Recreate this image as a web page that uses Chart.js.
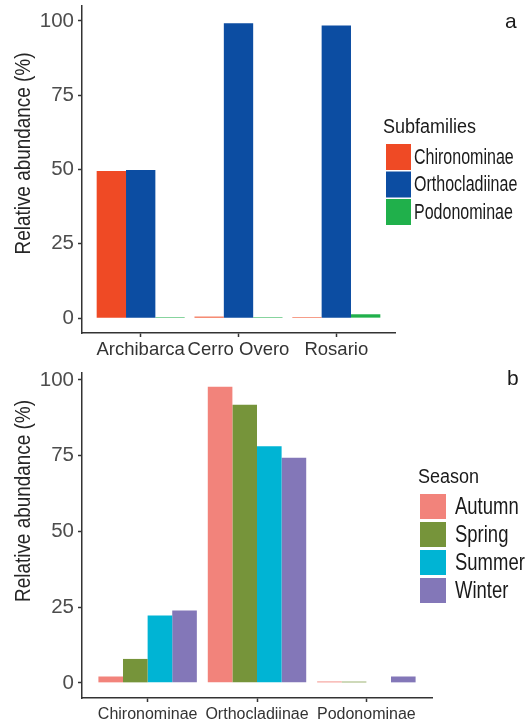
<!DOCTYPE html>
<html lang="en">
<head>
    <meta charset="UTF-8">
    <title>Relative abundance of Chironomidae subfamilies</title>
    <script src="https://cdn.jsdelivr.net/npm/chart.js"></script>
    <style>
        body {
            margin: 0;
            background: #ffffff;
        }
        .panel {
            position: absolute;
            left: 0;
            width: 531px;
        }
        #panelA { top: 0; height: 363px; }
        #panelB { top: 363px; height: 364px; }
    </style>
</head>
<body>
    <div class="panel" id="panelA"><canvas id="chartA"></canvas></div>
    <div class="panel" id="panelB"><canvas id="chartB"></canvas></div>

    <script>
        // panel a: subfamilies by site
        const sites = ['Archibarca', 'Cerro Overo', 'Rosario'];
        const chironominaeBySite = [49.5, 0.5, 0.35];
        const orthocladiinaeBySite = [49.8, 99.2, 98.4];
        const podonominaeBySite = [0.35, 0.35, 1.3];

        // panel b: seasons by subfamily
        const subfamilies = ['Chironominae', 'Orthocladiinae', 'Podonominae'];
        const autumn = [2.1, 97.8, 0.45];
        const spring = [7.9, 91.8, 0.4];
        const summer = [22.2, 78.1, 0];
        const winter = [23.9, 74.3, 2.1];

        const yTicks = [0, 25, 50, 75, 100];

        const FONT = '"Liberation Sans", Arial, sans-serif';
        const TEXT = '#1a1a1a';
        const AXIS = '#333333';

        function points(values) {
            return values.map((v, i) => ({ x: i, y: v }));
        }

        // the figure's text is narrower than Arial, so squeeze it horizontally
        function narrowText(ctx, text, x, y, size, sx) {
            ctx.save();
            ctx.translate(x, y);
            ctx.scale(sx, 1);
            ctx.font = size + 'px ' + FONT;
            ctx.fillText(text, 0, 0);
            ctx.restore();
        }

        // legend, rotated y title and panel letter, ggplot-like placement
        const decorations = {
            id: 'decorations',
            afterDraw(chart, args, o) {
                const ctx = chart.ctx;
                ctx.save();
                ctx.textAlign = 'left';
                ctx.textBaseline = 'middle';
                ctx.fillStyle = TEXT;
                narrowText(ctx, o.title, o.titleX, o.titleY, o.titleSize, o.titleSx);

                chart.data.datasets.forEach((ds, i) => {
                    const top = o.keyTop + i * o.pitch;
                    ctx.fillStyle = ds.backgroundColor;
                    ctx.fillRect(o.keyX, top, o.keyW, o.keyH);
                    ctx.fillStyle = TEXT;
                    narrowText(ctx, ds.label, o.labelX, top + o.keyH / 2 + 1, o.labelSize, o.labelSx);
                });

                ctx.font = '21px ' + FONT;
                ctx.textBaseline = 'alphabetic';
                ctx.fillText(o.letter, o.letterX, o.letterY);

                ctx.translate(o.yTitleX, o.yTitleY);
                ctx.rotate(-Math.PI / 2);
                ctx.textAlign = 'center';
                ctx.textBaseline = 'middle';
                ctx.fillStyle = '#262626';
                narrowText(ctx, 'Relative abundance (%)', 0, 0, 22, 0.86);
                ctx.restore();
            }
        };

        function makeScales(cats, yMax, xFontSize, xPad, xHeight) {
            return {
                x: {
                    type: 'linear',
                    bounds: 'data',
                    min: -0.6,
                    max: cats.length - 0.4,
                    offset: false,
                    afterBuildTicks: s => { s.ticks = cats.map((c, i) => ({ value: i })); },
                    afterFit: s => { s.height = xHeight; s.paddingLeft = 0; s.paddingRight = 0; },
                    ticks: {
                        autoSkip: false,
                        maxRotation: 0,
                        padding: xPad,
                        color: '#333333',
                        font: { family: FONT, size: xFontSize },
                        callback: v => cats[v]
                    },
                    grid: { display: true, drawOnChartArea: false, drawTicks: true, tickLength: 4, tickColor: AXIS, tickWidth: 1.5, offset: false },
                    border: { display: true, color: AXIS, width: 1.5 }
                },
                y: {
                    bounds: 'data',
                    min: -5,
                    max: yMax,
                    afterBuildTicks: s => { s.ticks = yTicks.map(v => ({ value: v })); },
                    afterFit: s => { s.width = 82; s.paddingTop = 0; s.paddingBottom = 0; },
                    ticks: {
                        padding: 4,
                        color: '#4d4d4d',
                        font: { family: FONT, size: 20.5 }
                    },
                    grid: { display: true, drawOnChartArea: false, drawTicks: true, tickLength: 4, tickColor: AXIS, tickWidth: 1.5 },
                    border: { display: true, color: AXIS, width: 1.5 }
                }
            };
        }

        new Chart(document.getElementById('chartA'), {
            type: 'bar',
            data: {
                datasets: [
                    { label: 'Chironominae', data: points(chironominaeBySite), backgroundColor: '#ef4a25' },
                    { label: 'Orthocladiinae', data: points(orthocladiinaeBySite), backgroundColor: '#0c4da2' },
                    { label: 'Podonominae', data: points(podonominaeBySite), backgroundColor: '#20b04b' }
                ]
            },
            options: {
                responsive: true,
                maintainAspectRatio: false,
                animation: false,
                barPercentage: 1,
                categoryPercentage: 0.9,
                layout: { padding: { left: 0, top: 6, right: 136, bottom: 0 } },
                scales: makeScales(sites, 105, 18.5, 2, 30),
                plugins: {
                    legend: { display: false },
                    tooltip: { enabled: false },
                    decorations: {
                        title: 'Subfamilies', titleSize: 20, titleSx: 0.9, titleX: 383, titleY: 127,
                        keyX: 386, keyTop: 144, keyW: 25, keyH: 26, pitch: 27.5,
                        labelX: 414, labelSize: 21.5, labelSx: 0.745,
                        letter: 'a', letterX: 505, letterY: 28,
                        yTitleX: 23.5, yTitleY: 153.5
                    }
                }
            },
            plugins: [decorations]
        });

        new Chart(document.getElementById('chartB'), {
            type: 'bar',
            data: {
                datasets: [
                    { label: 'Autumn', data: points(autumn), backgroundColor: '#f2837b' },
                    { label: 'Spring', data: points(spring), backgroundColor: '#76943a' },
                    { label: 'Summer', data: points(summer), backgroundColor: '#00b4d4' },
                    { label: 'Winter', data: points(winter), backgroundColor: '#8377b8' }
                ]
            },
            options: {
                responsive: true,
                maintainAspectRatio: false,
                animation: false,
                barPercentage: 1,
                categoryPercentage: 0.9,
                layout: { padding: { left: 0, top: 10, right: 99, bottom: 0 } },
                scales: makeScales(subfamilies, 102.3, 16, 3, 29),
                plugins: {
                    legend: { display: false },
                    tooltip: { enabled: false },
                    decorations: {
                        title: 'Season', titleSize: 20, titleSx: 0.9, titleX: 418, titleY: 114,
                        keyX: 420, keyTop: 131, keyW: 26, keyH: 25, pitch: 28,
                        labelX: 455, labelSize: 24, labelSx: 0.77,
                        letter: 'b', letterX: 507, letterY: 22,
                        yTitleX: 23.5, yTitleY: 138
                    }
                }
            },
            plugins: [decorations]
        });
    </script>
</body>
</html>
